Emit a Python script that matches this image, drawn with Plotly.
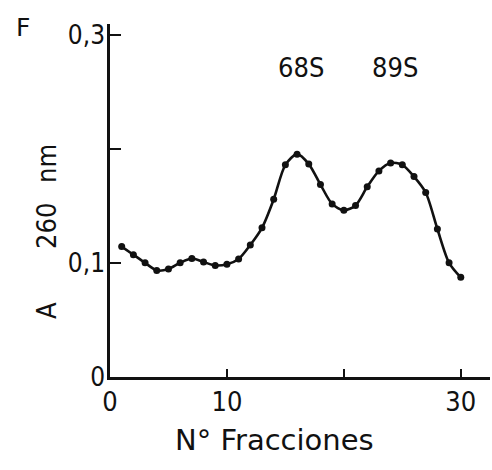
import plotly.graph_objects as go

# Fraction number and absorbance at 260 nm
fracciones = list(range(1, 31))
absorbancia = [
    0.1145, 0.1074, 0.1003, 0.0936, 0.0948, 0.1003, 0.1040, 0.1010, 0.0980, 0.0990,
    0.1037, 0.1160, 0.1310, 0.1560, 0.1863, 0.1957, 0.1870, 0.1690, 0.1520, 0.1464,
    0.1507, 0.1670, 0.1810, 0.1880, 0.1863, 0.1760, 0.1620, 0.1300, 0.1003, 0.0875,
]

# Peak labels (sedimentation coefficients)
picos = ["68S", "89S"]
picos_x = [16.3, 24.4]

y_ticks = [0, 0.1, 0.2, 0.3]
y_ticktext = ["0", "0,1", "", "0,3"]
x_ticks = [0, 10, 20, 30]
x_ticktext = ["0", "10", "", "30"]

FONT = "DejaVu Sans"
NARROW = "Liberation Sans Narrow, DejaVu Sans Condensed, DejaVu Sans"
INK = "#111111"

W, H = 492, 470
L, R, T, B = 110, 2, 24, 93
pw, ph = W - L - R, H - T - B


def px_to_paper(xp, yp):
    return (xp - L) / pw, (H - B - yp) / ph


fig = go.Figure()
fig.add_trace(go.Scatter(
    x=fracciones, y=absorbancia,
    mode="lines+markers",
    line=dict(color=INK, width=2.6, shape="spline", smoothing=0.8),
    marker=dict(color=INK, size=7),
    showlegend=False,
    cliponaxis=False,
))

for lab, xp in zip(picos, picos_x):
    fig.add_annotation(x=xp, y=0.272, xref="x", yref="y", text=lab,
                       xanchor="center", yanchor="middle", showarrow=False,
                       font=dict(family=NARROW, size=27, color=INK))

# Free text placed in pixel positions: panel letter and axis titles
textos = [
    ("F", 23, 28, 0, 25, FONT),
    ("N° Fracciones", 274, 440, 0, 29, FONT),
    ("A", 46, 311, -90, 27, NARROW),
    ("260", 46, 226, -90, 27, NARROW),
    ("nm", 46, 164, -90, 27, NARROW),
]
for txt, xp, yp, ang, sz, fam in textos:
    xx, yy = px_to_paper(xp, yp)
    fig.add_annotation(x=xx, y=yy, xref="paper", yref="paper", text=txt, textangle=ang,
                       xanchor="center", yanchor="middle", showarrow=False,
                       font=dict(family=fam, size=sz, color=INK))

fig.update_layout(
    width=W, height=H,
    margin=dict(l=L, r=R, t=T, b=B),
    paper_bgcolor="white", plot_bgcolor="white",
    font=dict(family=FONT, color=INK, size=20),
    xaxis=dict(
        range=[0, 32.5], tickvals=x_ticks, ticktext=x_ticktext,
        ticks="inside", ticklen=8, tickwidth=2, tickcolor=INK,
        showline=True, linecolor=INK, linewidth=2.5, showgrid=False, zeroline=False,
        tickfont=dict(family=NARROW, size=27, color=INK),
        ticklabelstandoff=-1,
        title=None,
    ),
    yaxis=dict(
        range=[0, 0.31], tickvals=y_ticks, ticktext=y_ticktext,
        ticks="inside", ticklen=11, tickwidth=2, tickcolor=INK,
        showline=True, linecolor=INK, linewidth=2.5, showgrid=False, zeroline=False,
        tickfont=dict(family=NARROW, size=26, color=INK),
        ticklabelstandoff=-3,
        title=None,
    ),
)

fig.write_html("out.html")
